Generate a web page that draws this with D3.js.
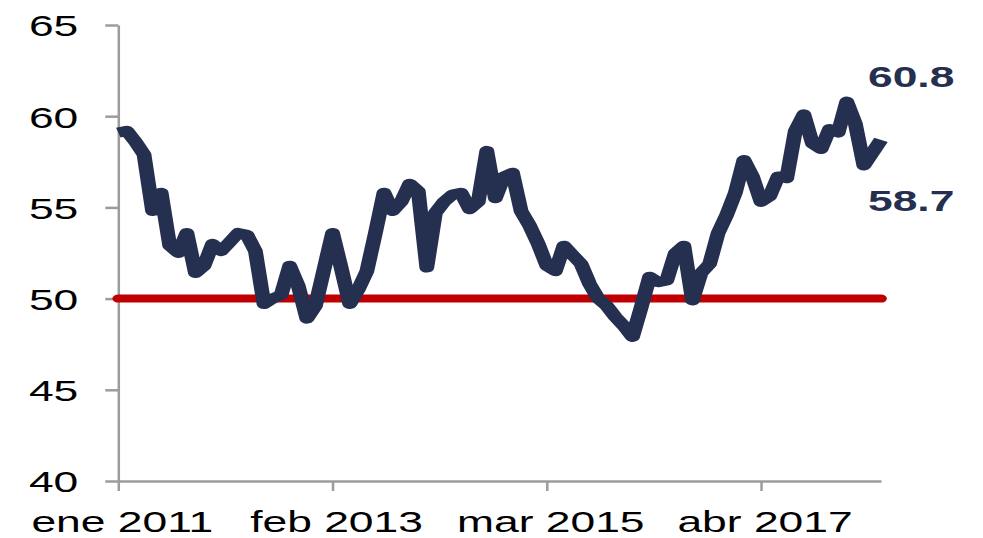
<!DOCTYPE html>
<html>
<head>
<meta charset="utf-8">
<script src="https://cdn.jsdelivr.net/npm/d3@7"></script>
<style>
  html, body { margin: 0; padding: 0; background: #fff; }
  svg text { font-family: "Liberation Sans", Arial, sans-serif; }
</style>
</head>
<body>
<svg id="chart" width="983" height="538"></svg>
<script>
// Monthly index, ene 2011 .. jun 2018
const values = [
  59.1, 59.2, 58.6, 57.9, 54.8, 55.8, 52.9, 52.5, 53.6, 51.4,
  51.8, 53.0, 52.6, 53.1, 53.6, 53.5, 52.6, 49.7, 50.0, 50.2,
  51.8, 50.7, 48.9, 49.6, 51.6, 53.6, 51.7, 49.7, 50.5, 51.5,
  53.6, 55.8, 54.8, 55.3, 56.3, 55.9, 51.7, 54.7, 55.3, 55.7,
  55.8, 54.9, 55.3, 58.1, 55.5, 56.7, 56.9, 54.8, 54.0, 53.0,
  51.8, 51.5, 52.9, 52.4, 51.9, 50.8, 50.0, 49.6, 49.0, 48.5,
  47.9, 49.5, 51.2, 50.9, 51.0, 52.5, 52.9, 49.9, 51.4, 51.9,
  53.6, 54.6, 55.8, 57.6, 56.7, 55.3, 55.6, 56.7, 56.6, 59.2,
  60.1, 58.5, 58.2, 59.3, 59.1, 60.8, 59.6, 57.3, 58.0, 58.7
];
const yTicks = [40, 45, 50, 55, 60, 65];
const xTickIdx = [0, 25, 50, 75];
const xTickLabels = ["ene 2011", "feb 2013", "mar 2015", "abr 2017"];
const threshold = 50;
const callouts = [
  { label: "60.8", value: 60.8 },
  { label: "58.7", value: 58.7 }
];

const navy = "#253050";
const stretch = 1.48; // the reference is drawn wide, so text and strokes get stretched
const left = 118.3, right = 881;

const svg = d3.select("#chart");

const x = d3.scaleLinear().domain([0, values.length - 1]).range([left, right]);
const y = d3.scaleLinear().domain([40, 65]).range([481, 25]);
// same x scale in unstretched units, for marks drawn inside the stretched group
const xs = d3.scaleLinear().domain([0, values.length - 1]).range([0, (right - left) / stretch]);

// y axis
const yAxis = svg.append("g")
    .attr("transform", `translate(${left},0)`)
    .call(d3.axisLeft(y).tickValues(yTicks).tickSize(13).tickSizeOuter(0));
yAxis.select(".domain").attr("stroke", "#9c9c9c").attr("stroke-width", 2.5);
yAxis.selectAll(".tick line").attr("stroke", "#9c9c9c").attr("stroke-width", 2.5);
yAxis.selectAll(".tick text")
    .attr("x", null)
    .attr("dy", "0.36em")
    .attr("transform", `translate(-40,0) scale(${stretch},1)`)
    .attr("font-size", 30)
    .attr("fill", "#000");

// x axis
const xAxis = svg.append("g")
    .attr("transform", "translate(0,481)")
    .call(d3.axisBottom(x).tickValues(xTickIdx)
        .tickFormat((d, i) => xTickLabels[i])
        .tickSize(10).tickSizeOuter(0));
xAxis.select(".domain").attr("stroke", "#9c9c9c").attr("stroke-width", 2.5);
xAxis.selectAll(".tick line").attr("stroke", "#9c9c9c").attr("stroke-width", 2.5);
xAxis.selectAll(".tick text")
    .attr("y", null)
    .attr("dy", null)
    .attr("transform", `translate(3.5,51) scale(${stretch},1)`)
    .attr("font-size", 30)
    .attr("fill", "#000");
svg.selectAll(".domain").attr("fill", "none");
svg.selectAll("g").attr("font-family", null);

const plot = svg.append("g")
    .attr("transform", `translate(${left},0) scale(${stretch},1)`);

// 50 reference line
plot.append("line")
    .attr("x1", xs(0))
    .attr("x2", xs(values.length - 1))
    .attr("y1", y(threshold))
    .attr("y2", y(threshold))
    .attr("stroke", "#C00000")
    .attr("stroke-width", 8)
    .attr("stroke-linecap", "round");

// series
const line = d3.line()
    .x((d, i) => xs(i))
    .y(d => y(d));

plot.append("path")
    .datum(values)
    .attr("d", line)
    .attr("fill", "none")
    .attr("stroke", navy)
    .attr("stroke-width", 10)
    .attr("stroke-linejoin", "round");

// callout labels
const calloutPos = [87, 211];
svg.selectAll(".callout")
    .data(callouts)
    .join("text")
    .attr("class", "callout")
    .attr("transform", (d, i) => `translate(868,${calloutPos[i]}) scale(${stretch},1)`)
    .attr("font-size", 30)
    .attr("font-weight", "bold")
    .attr("fill", navy)
    .text(d => d.label);
</script>
</body>
</html>
